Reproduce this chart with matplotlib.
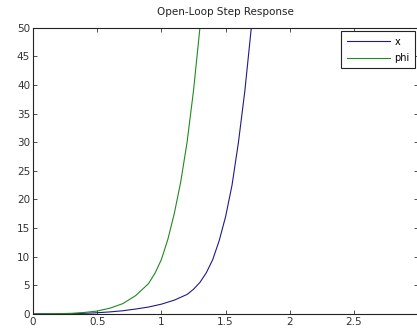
import matplotlib.pyplot as plt

# time samples and responses
t_x = [0, 0.1, 0.2, 0.3, 0.4, 0.5, 0.6, 0.7, 0.8, 0.9, 1.0, 1.1, 1.2, 1.25,
       1.3, 1.35, 1.4, 1.45, 1.5, 1.55, 1.6, 1.65, 1.7, 1.75]
x_vals = [0, 0.0, 0.01, 0.03, 0.1, 0.2, 0.35, 0.55, 0.85, 1.2, 1.7, 2.4, 3.4,
          4.3, 5.5, 7.2, 9.5, 12.8, 17, 22.5, 30, 39, 50, 64]

t_phi = [0, 0.1, 0.2, 0.3, 0.4, 0.5, 0.6, 0.7, 0.8, 0.9, 0.95, 1.0, 1.05,
         1.1, 1.15, 1.2, 1.25, 1.3, 1.35]
phi_vals = [0, 0.01, 0.04, 0.1, 0.25, 0.5, 1.0, 1.8, 3.2, 5.3, 7.1, 9.5, 13,
            17.5, 23, 30, 39, 50, 63]

xticks = [0, 0.5, 1, 1.5, 2, 2.5, 3]
yticks = [0, 5, 10, 15, 20, 25, 30, 35, 40, 45, 50]

fig = plt.figure(figsize=(4.17, 3.28), dpi=100)
ax = fig.add_axes([0.079, 0.043, 0.924, 0.872])

ax.plot(t_x, x_vals, color='#1c1c8a', linewidth=0.8, label='x')
ax.plot(t_phi, phi_vals, color='#1f8a1f', linewidth=0.8, label='phi')

ax.set_xlim(0, 3)
ax.set_ylim(0, 50)
ax.set_xticks(xticks)
ax.set_xticklabels(['0', '0.5', '1', '1.5', '2', '2.5', ''])
ax.set_yticks(yticks)
ax.tick_params(direction='in', top=True, right=True, labelsize=7.5,
               length=3, width=0.6, colors='#333333', pad=2)
for s in ax.spines.values():
    s.set_linewidth(0.8)
    s.set_color('#222222')

ax.set_title('Open-Loop Step Response', fontsize=7.5, pad=9, color='#222222')

leg = ax.legend(loc='upper right', fontsize=7, fancybox=False,
                framealpha=1, edgecolor='#222222', handlelength=4.5,
                borderaxespad=0.35, borderpad=0.55, labelspacing=0.65,
                handletextpad=0.4)
leg.get_frame().set_linewidth(0.8)

plt.savefig('out.png', dpi=100)
plt.close()
